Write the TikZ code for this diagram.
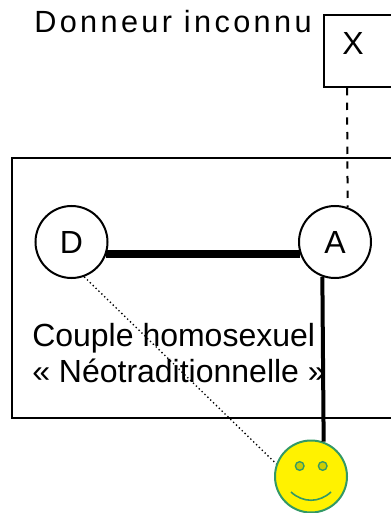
\documentclass[tikz,border=0pt]{standalone}
\usepackage{fontspec}
\setmainfont{Liberation Sans}
\newfontfamily\spacedfont[LetterSpace=11]{Liberation Sans}
\usetikzlibrary{calc}
\definecolor{smileyline}{HTML}{339966}
\definecolor{smileyeye}{HTML}{CCCC00}
\tikzset{
	person/.style={draw, circle, line width=1.5pt, minimum size=54pt, inner sep=0pt, font=\fontsize{24}{28}\selectfont},
	frame/.style={draw, rectangle, line width=1.5pt, inner sep=0pt},
	caption/.style={inner sep=0pt, font=\fontsize{24}{28}\selectfont},
	eye/.style={draw=smileyline, fill=smileyeye, circle, line width=1pt, minimum size=6.5pt, inner sep=0pt}
}

\begin{document}
\begin{tikzpicture}[x=0.75pt, y=-0.75pt]
			%%%%% START %%%%%
			
			\useasboundingbox (0, 0) rectangle (391, 513);
			\clip (0, 0) rectangle (391, 513);
			
			\node[frame, minimum width=300pt, minimum height=195pt, anchor=north west] (couple) at (11, 157) {};
			\node[frame, minimum width=60pt, minimum height=54pt, anchor=north west] (donor) at (323, 14) {};
			\node[caption] (donorletter) at (353, 43) {X};
			\node[caption, anchor=base west, font=\fontsize{23}{27}\spacedfont] (donorname) at (34, 33) {Donneur inconnu};
			
			\node[person] (D) at (71.5, 242) {D};
			\node[person] (A) at (335, 242) {A};
			
			\node[caption, anchor=base west] (coupletext) at (32, 346) {Couple homosexuel};
			\node[caption, anchor=base west] (kindtext) at (32, 382) {« Néotraditionnelle »};
			
			\node[draw=smileyline, fill=yellow, circle, line width=1.5pt, minimum size=54pt, inner sep=0pt] (child) at (311, 476.5) {};
			\node[eye] (lefteye) at (299.7, 466) {};
			\node[eye] (righteye) at (322.7, 466) {};
			\draw[line width=1.2pt, color=smileyline] (291, 492) .. controls (303, 503) and (319, 503) .. (331, 492);
			
			\draw[line width=5.5pt] (D.-19.5) -- (A.199.5);
			\draw[line width=3pt] (A.250.5) -- (child.70.5);
			
			\draw[line width=1.5pt, dash pattern=on 5.5pt off 5.5pt] ($(donor.south west)+(24, 0)$) -- (A.70.5);
			\draw[line width=1pt, dotted] (D.-70) -- (child.160);
			
			%%%%% END %%%%%
\end{tikzpicture}
\end{document}
